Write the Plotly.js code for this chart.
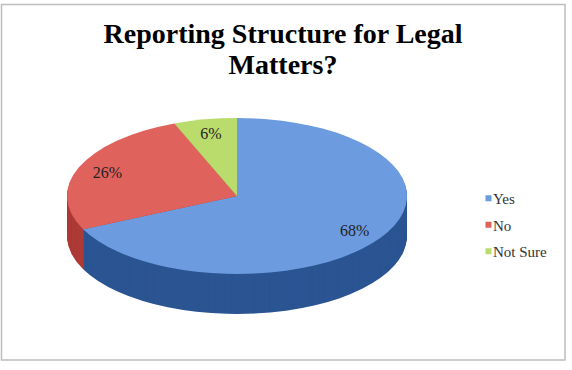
<!DOCTYPE html>
<html>
<head>
<meta charset="utf-8">
<script src="https://cdn.plot.ly/plotly-3.0.1.min.js"></script>
<style>
  html, body { margin: 0; padding: 0; background: #fff; }
  #chart { width: 572px; height: 370px; }
</style>
</head>
<body>
<div id="chart"></div>
<script>
// ---- data ----
const labels = ['Yes', 'No', 'Not Sure'];
const values = [68, 26, 6];
const topColors = ['#6c9be0', '#e0625d', '#badc6c'];
const sideColors = ['#2b5592', '#ad3a36', '#8aa84a'];
const titleText = 'Reporting Structure for Legal<br>Matters?';

// ---- 3D look parameters (styling only) ----
const SQUASH = 78 / 170;   // vertical flattening of the pie face
const DEPTH = 40;          // thickness of the side wall in px
const LAYERS = 40;         // number of stacked side layers
const LABEL_R = 0.82;      // label distance as fraction of radius
const LEGEND_STEP = 26.5;  // legend row spacing in px

const domain = { x: [67 / 572, 407 / 572], y: [4 / 370, 344 / 370] };

const traces = [];
for (let i = LAYERS; i >= 1; i--) {
  traces.push({
    type: 'pie', labels: labels, values: values, sort: false,
    direction: 'clockwise', rotation: 0, domain: domain,
    marker: { colors: sideColors, line: { width: 0 } },
    textinfo: 'none', hoverinfo: 'skip', showlegend: false
  });
}
traces.push({
  type: 'pie', labels: labels, values: values, sort: false,
  direction: 'clockwise', rotation: 0, domain: domain,
  marker: { colors: topColors, line: { width: 0 } },
  textinfo: 'percent', textposition: 'inside',
  insidetextorientation: 'horizontal',
  texttemplate: '%{percent:.0%}',
  textfont: { family: 'Liberation Serif', size: 16, color: '#222' },
  hoverinfo: 'skip', showlegend: true
});

const layout = {
  width: 572, height: 370,
  margin: { l: 0, r: 0, t: 0, b: 0 },
  paper_bgcolor: '#fff',
  title: {
    text: titleText,
    font: { family: 'Liberation Serif', size: 28, color: '#000', weight: 700 },
    x: 283 / 572, xanchor: 'center', xref: 'paper',
    y: 1 - 43 / 370, yanchor: 'top', yref: 'container'
  },
  showlegend: true,
  legend: {
    x: 453 / 572, y: 1 - 182 / 370, xanchor: 'left', yanchor: 'top',
    font: { family: 'Liberation Serif', size: 15, color: '#333' },
    bgcolor: 'rgba(0,0,0,0)'
  },
  shapes: [{
    type: 'rect', xref: 'paper', yref: 'paper',
    x0: 1.5 / 572, x1: 565 / 572, y0: 10 / 370, y1: 365.5 / 370,
    line: { color: '#bdbdbd', width: 1.5 }
  }]
};

const gd = document.getElementById('chart');
Plotly.newPlot(gd, traces, layout, { staticPlot: true, displayModeBar: false }).then(() => {
  const c0 = gd.calcdata[0][0];
  const cx = c0.cx, cy = c0.cy, R = c0.r;
  const total = values.reduce((a, b) => a + b, 0);
  const groups = gd.querySelectorAll('.pielayer > g.trace');
  groups.forEach((g, idx) => {
    const off = idx < LAYERS ? DEPTH * (LAYERS - idx) / LAYERS : 0;
    g.querySelectorAll('path.surface').forEach(p => {
      p.setAttribute('transform', `translate(0,${cy * (1 - SQUASH) + off}) scale(1,${SQUASH})`);
    });
    let cum = 0;
    const mids = values.map(v => { const m = (cum + v / 2) / total; cum += v; return m * 2 * Math.PI; });
    g.querySelectorAll('g.slice').forEach((s, si) => {
      const t = s.querySelector('g.slicetext');
      if (!t) return;
      const r = t.getBoundingClientRect();
      const xc = r.left + r.width / 2, yc = r.top + r.height / 2;
      const th = mids[si];
      const tx = cx + LABEL_R * R * Math.sin(th);
      const ty = cy - LABEL_R * R * Math.cos(th) * SQUASH;
      t.setAttribute('transform', `translate(${tx - xc},${ty - yc + off})`);
    });
  });
  // tighter title line spacing
  gd.querySelectorAll('.gtitle tspan.line').forEach((ts, i) => {
    if (i > 0) ts.setAttribute('dy', '1.1em');
  });
  // legend: small squares close to text, wider row spacing
  gd.querySelectorAll('path.legendpie').forEach(p => p.setAttribute('d', 'M18.5,3H12.5V-3H18.5Z'));
  const items = gd.querySelectorAll('.legend g.traces');
  let y0 = null;
  items.forEach((it, i) => {
    const m = /translate\(\s*([-\d.e]+)[ ,]+([-\d.e]+)\s*\)/.exec(it.getAttribute('transform') || '');
    if (!m) return;
    const x = parseFloat(m[1]), y = parseFloat(m[2]);
    if (y0 === null) y0 = y;
    it.setAttribute('transform', `translate(${x},${y0 + i * LEGEND_STEP})`);
  });
  const bg = gd.querySelector('.legend rect.bg');
  if (bg) bg.setAttribute('height', String(parseFloat(bg.getAttribute('height') || 0) + (items.length - 1) * 8));
});
</script>
</body>
</html>
